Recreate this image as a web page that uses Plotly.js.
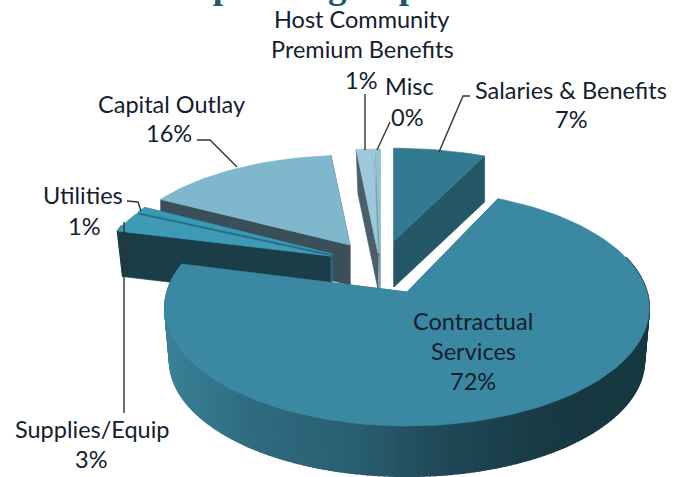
<!DOCTYPE html>
<html><head><meta charset="utf-8">
<script src="https://cdn.plot.ly/plotly-3.0.1.min.js"></script>
<style>html,body{margin:0;padding:0;background:#fff;overflow:hidden}#c{width:686px;height:477px}</style>
</head><body><div id="c"></div>
<script>
// Data (share of budget, %)
const categories = ["Salaries & Benefits","Contractual Services","Supplies/Equip","Utilities","Capital Outlay","Host Community Premium Benefits","Misc"];
const values = [7.0,72.0,3.0,0.9,15.6,1.2,0.3];

// Slice styling / explosion (3-D look)
const topColors  = ["#327a8f","#3a88a2","#3f9ab5","#3a9ab5","#7fb7cc","#9cc8da","#8fc4d0"];
const faceColors = ["#255866","#2f6b80","#1a3d48","#256f85","#3a4f58","#4a5f6a","#6f9fae"];
const apexX = [394,407,330,332,350,378,380];
const apexY = [241,292,256,254,245,253,253];
const scaleX = [1,1.005,0.95,0.95,0.96,1.1,1.1];
const scaleY = [0.91,1,0.9,0.9,0.88,1.02,1.02];
const depths = [46,53,45,44,40,36,36];
const inner  = [1,0.98,0.975,0.975,1,0.92,0.92];
const drawOrder = [6,5,0,4,3,2,1];
const RX = 238.8, RY = 115.8, K = 0.1357;

const total = values.reduce((a,b)=>a+b,0);
const starts = []; { let c=0; for (const v of values){ starts.push(c/total*360); c+=v; } }

function rim(i,deg,bottom){
  const t=deg*Math.PI/180, u=Math.sin(t), v=Math.cos(t), w=1+K*v;
  const q=bottom?inner[i]:1, d=bottom?depths[i]:0;
  return [apexX[i]+q*scaleX[i]*RX*u/w, apexY[i]+d-q*scaleY[i]*RY*v/w];
}
const traces=[];
function poly(pts,color,lw){
  traces.push({type:"scatter",mode:"lines",x:pts.map(p=>p[0]).concat(pts[0][0]),y:pts.map(p=>p[1]).concat(pts[0][1]),
    fill:"toself",fillcolor:color,line:{color:color,width:lw||0.7},hoverinfo:"skip",showlegend:false});
}
function hex(c){return [1,3,5].map(k=>parseInt(c.substr(k,2),16));}
const wallX=[166,250,350,450,550,650];
const wallC=["#3b8096","#2f6b80","#2a5f72","#1f4755","#183a44","#173840"];
function wallColor(x){
  for(let j=0;j<wallX.length-1;j++){
    if(x<=wallX[j+1]){
      const f=Math.max(0,(x-wallX[j])/(wallX[j+1]-wallX[j])), a=hex(wallC[j]), b=hex(wallC[j+1]);
      return "rgb("+a.map((n,k)=>Math.round(n+(b[k]-n)*f)).join(",")+")";
    }
  }
  return wallC[wallC.length-1];
}
for(const i of drawOrder){
  const a0=starts[i], a1=a0+values[i]/total*360;
  const A=[apexX[i],apexY[i]], B=[apexX[i],apexY[i]+depths[i]];
  // cut faces
  poly([rim(i,a0),A,B,rim(i,a0,true)],faceColors[i]);
  poly([rim(i,a1),A,B,rim(i,a1,true)],faceColors[i]);
  // outer wall
  const n=Math.max(1,Math.ceil((a1-a0)/1.2));
  for(let s=0;s<n;s++){
    const p=a0+(a1-a0)*s/n, q=a0+(a1-a0)*(s+1)/n;
    if(Math.cos((p+q)/2*Math.PI/180)>0.3) continue;
    const top0=rim(i,p), top1=rim(i,q);
    const col=i===1?wallColor((top0[0]+top1[0])/2):faceColors[i];
    poly([top0,top1,rim(i,q,true),rim(i,p,true)],col,1.6);
  }
  // top surface
  const pts=[A];
  const m=Math.max(2,Math.ceil((a1-a0)/2));
  for(let s=0;s<=m;s++) pts.push(rim(i,a0+(a1-a0)*s/m));
  poly(pts,topColors[i]);
}
// Leader lines
const leaders=[
  [[470,96],[463,96],[439,152]],
  [[365,94],[365,150]],
  [[390,122],[377,150]],
  [[197,140],[210,140],[237,167]],
  [[127,201],[138,202],[141,211]],
  [[124,222],[124,413]]
];
for(const l of leaders){
  traces.push({type:"scatter",mode:"lines",x:l.map(p=>p[0]),y:l.map(p=>p[1]),line:{color:"#333333",width:1.4},hoverinfo:"skip",showlegend:false});
}
// Labels
const pct=values.map(v=>Math.round(v)+"%");
const labelLines=[
  ["Host Community",361,19],["Premium Benefits",362,49],[pct[5],361,80],
  ["Misc",409,86],[pct[6],407,117],
  [categories[0],571,90],[pct[0],571,119],
  ["Capital Outlay",171,104],[pct[4],169,133],
  [categories[3],83,195],[pct[3],84,226],
  ["Contractual",473,321],["Services",473,351],[pct[1],473,381],
  [categories[2],92,429],[pct[2],91,459]
];
const annotations=labelLines.map(l=>({text:l[0],x:l[1],y:l[2],xref:"x",yref:"y",showarrow:false,xanchor:"center",yanchor:"middle",
  font:{family:"Lato, Carlito, sans-serif",size:23.5,color:"#13202e"}}));
annotations.push({text:"<b>Operating Expenses</b>",x:343,y:7,xref:"x",yref:"y",showarrow:false,xanchor:"center",yanchor:"bottom",borderpad:0,
  font:{family:"'Liberation Serif', serif",size:37,color:"#1f5b6e"}});
Plotly.newPlot("c",traces,{
  width:686,height:477,margin:{l:0,r:0,t:0,b:0},paper_bgcolor:"#fff",plot_bgcolor:"#fff",showlegend:false,
  xaxis:{range:[0,686],visible:false,fixedrange:true},
  yaxis:{range:[477,0],visible:false,fixedrange:true},
  annotations:annotations
},{displayModeBar:false,staticPlot:true});
</script></body></html>
